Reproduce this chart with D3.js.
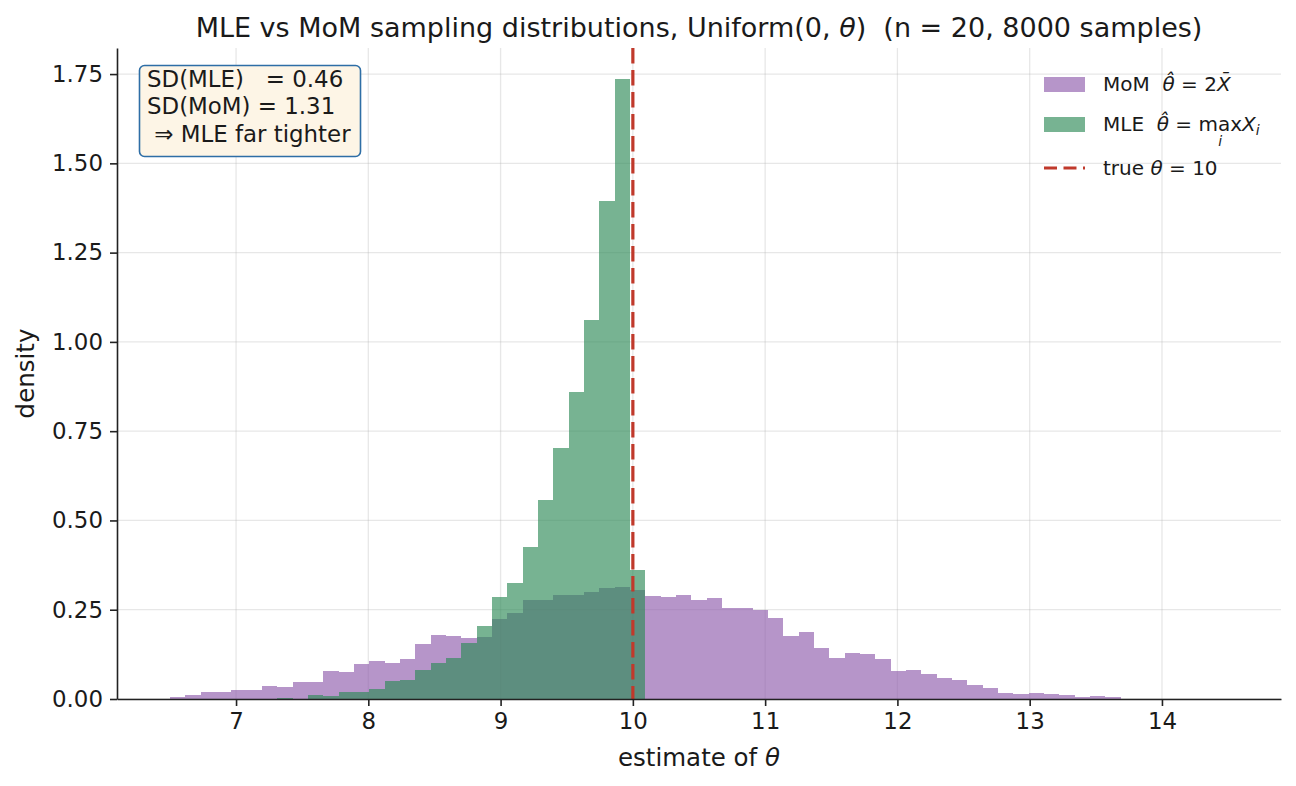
<!DOCTYPE html>
<html lang="en">
<head>
<meta charset="utf-8">
<title>MLE vs MoM</title>
<script src="https://cdn.jsdelivr.net/npm/d3@7"></script>
<style>
  body { margin: 0; background: #fff; }
  text { font-family: "DejaVu Sans", sans-serif; fill: #1a1a1a; white-space: pre; }
</style>
</head>
<body>
<script>
// shared histogram bins: 70 edges from 6.5 to 14.5
const binLo = 6.5, binHi = 14.5, binCount = 69;

// density per bin, MoM estimator 2*mean
const momDensity = [
  0.007, 0.012, 0.020, 0.020, 0.026, 0.026, 0.037, 0.034, 0.048, 0.048,
  0.079, 0.076, 0.099, 0.107, 0.102, 0.113, 0.155, 0.180, 0.177, 0.172,
  0.175, 0.225, 0.242, 0.276, 0.278, 0.292, 0.292, 0.301, 0.312, 0.315,
  0.306, 0.289, 0.287, 0.292, 0.278, 0.284, 0.256, 0.256, 0.250, 0.228,
  0.177, 0.189, 0.144, 0.116, 0.130, 0.127, 0.113, 0.079, 0.082, 0.071,
  0.060, 0.054, 0.040, 0.032, 0.018, 0.015, 0.018, 0.015, 0.012, 0.007,
  0.009, 0.007, 0, 0, 0, 0, 0, 0, 0
];

// density per bin, MLE estimator max X_i
const mleDensity = [
  0, 0, 0, 0, 0, 0, 0, 0.004, 0, 0.012,
  0.009, 0.020, 0.020, 0.029, 0.051, 0.054, 0.082, 0.101, 0.116, 0.158,
  0.205, 0.287, 0.326, 0.427, 0.556, 0.704, 0.859, 1.060, 1.394, 1.736,
  0.360, 0, 0, 0, 0, 0, 0, 0, 0, 0,
  0, 0, 0, 0, 0, 0, 0, 0, 0, 0,
  0, 0, 0, 0, 0, 0, 0, 0, 0, 0,
  0, 0, 0, 0, 0, 0, 0, 0, 0
];

const xTicks = [7, 8, 9, 10, 11, 12, 13, 14];
const yTicks = [0, 0.25, 0.5, 0.75, 1.0, 1.25, 1.5, 1.75];
const trueTheta = 10;
const boxLines = ["SD(MLE)   = 0.46", "SD(MoM) = 1.31", " \u21d2 MLE far tighter"];

const W = 1296, H = 786;
const m = { left: 117, right: 1281, top: 48, bottom: 699 };

const svg = d3.select("body").append("svg")
  .attr("width", W).attr("height", H);

const x = d3.scaleLinear().domain([6.1, 14.9]).range([m.left, m.right]);
const y = d3.scaleLinear().domain([0, 1.823]).range([m.bottom, m.top]);

const binW = (binHi - binLo) / binCount;
const bins = d3.range(binCount).map(i => ({
  x0: binLo + i * binW, x1: binLo + (i + 1) * binW,
  mom: momDensity[i], mle: mleDensity[i]
}));

// grid
const grid = svg.append("g").attr("stroke", "#b0b0b0").attr("stroke-opacity", 0.3).attr("stroke-width", 1.3);
grid.selectAll(".gx").data(xTicks).enter().append("line")
  .attr("x1", d => x(d)).attr("x2", d => x(d)).attr("y1", m.top).attr("y2", m.bottom);
grid.selectAll(".gy").data(yTicks).enter().append("line")
  .attr("x1", m.left).attr("x2", m.right).attr("y1", d => y(d)).attr("y2", d => y(d));

// histograms
function drawHist(key, fill, op) {
  svg.append("g").selectAll("rect")
    .data(bins.filter(b => b[key] > 0))
    .enter().append("rect")
    .attr("x", d => x(d.x0))
    .attr("width", d => x(d.x1) - x(d.x0))
    .attr("y", d => y(d[key]))
    .attr("height", d => y(0) - y(d[key]))
    .attr("fill", fill).attr("fill-opacity", op)
    .attr("shape-rendering", "crispEdges");
}
drawHist("mom", "#8f5cac", 0.65);
drawHist("mle", "#2e8b57", 0.65);

// true theta line
svg.append("line")
  .attr("x1", x(trueTheta)).attr("x2", x(trueTheta))
  .attr("y1", m.top).attr("y2", m.bottom)
  .attr("stroke", "#c0392b").attr("stroke-width", 3.2)
  .attr("stroke-dasharray", "15.5,6.5");

// axes
const xAxis = svg.append("g").attr("transform", `translate(0,${m.bottom})`)
  .call(d3.axisBottom(x).tickValues(xTicks).tickFormat(d3.format("d"))
    .tickSizeInner(7).tickSizeOuter(0).tickPadding(7));
const yAxis = svg.append("g").attr("transform", `translate(${m.left},0)`)
  .call(d3.axisLeft(y).tickValues(yTicks).tickFormat(d3.format(".2f"))
    .tickSizeInner(7).tickSizeOuter(0).tickPadding(7));
[xAxis, yAxis].forEach(a => {
  a.select(".domain").attr("stroke", "#222").attr("stroke-width", 1.6);
  a.selectAll(".tick line").attr("stroke", "#222").attr("stroke-width", 1.6);
  a.selectAll(".tick text").attr("font-family", "DejaVu Sans").attr("font-size", 22.9).attr("fill", "#1a1a1a");
});

// title
const title = svg.append("text").attr("x", (m.left + m.right) / 2).attr("y", 37)
  .attr("text-anchor", "middle").attr("font-size", 27);
title.append("tspan").text("MLE vs MoM sampling distributions, Uniform(0, ");
title.append("tspan").attr("font-style", "italic").text("\u03b8");
title.append("tspan").text(")  (n = 20, 8000 samples)");

// axis labels
const xl = svg.append("text").attr("x", (m.left + m.right) / 2).attr("y", 766)
  .attr("text-anchor", "middle").attr("font-size", 24.5);
xl.append("tspan").text("estimate of ");
xl.append("tspan").attr("font-style", "italic").text("\u03b8");
svg.append("text").attr("transform", `translate(34,${(m.top + m.bottom) / 2}) rotate(-90)`)
  .attr("text-anchor", "middle").attr("font-size", 24.5).text("density");

// annotation box
const box = svg.append("g");
box.append("rect").attr("x", 139.5).attr("y", 65.5).attr("width", 221).attr("height", 91)
  .attr("rx", 5).attr("fill", "#fdf5e6").attr("stroke", "#2e6ea6").attr("stroke-width", 1.6);
box.selectAll("text").data(boxLines).enter().append("text")
  .attr("x", 147).attr("y", (d, i) => 87 + i * 27.3)
  .attr("font-size", 22.9).text(d => d);

// legend
const lg = svg.append("g").attr("transform", "translate(1044,0)");
const lfs = 20;
lg.append("rect").attr("x", 0).attr("y", 77).attr("width", 41).attr("height", 15)
  .attr("fill", "#8f5cac").attr("fill-opacity", 0.65);
lg.append("rect").attr("x", 0).attr("y", 117).attr("width", 41).attr("height", 15)
  .attr("fill", "#2e8b57").attr("fill-opacity", 0.65);
lg.append("line").attr("x1", 0).attr("x2", 41).attr("y1", 168).attr("y2", 168)
  .attr("stroke", "#c0392b").attr("stroke-width", 3.2).attr("stroke-dasharray", "13,6.5");

const t1 = lg.append("text").attr("x", 59).attr("y", 91).attr("font-size", lfs);
t1.append("tspan").text("MoM  ");
t1.append("tspan").attr("font-style", "italic").text("\u03b8\u0302");
t1.append("tspan").text(" = 2");
t1.append("tspan").attr("font-style", "italic").text("X\u0304");

const t2 = lg.append("text").attr("x", 59).attr("y", 131).attr("font-size", lfs);
t2.append("tspan").text("MLE  ");
t2.append("tspan").attr("font-style", "italic").text("\u03b8\u0302");
t2.append("tspan").text(" = max");
t2.append("tspan").attr("font-style", "italic").text("X");
t2.append("tspan").attr("font-style", "italic").attr("font-size", 14).attr("dy", 4).text("i");
// subscript i under "max"
const pre = "MLE  \u03b8\u0302 = ".length;
const maxMid = t2.node().getSubStringLength(0, pre) + t2.node().getSubStringLength(pre, 3) / 2;
lg.append("text").attr("x", 59 + maxMid).attr("y", 146).attr("font-size", 14)
  .attr("text-anchor", "middle").attr("font-style", "italic").text("i");

const t3 = lg.append("text").attr("x", 59).attr("y", 175).attr("font-size", lfs);
t3.append("tspan").text("true ");
t3.append("tspan").attr("font-style", "italic").text("\u03b8");
t3.append("tspan").text(" = 10");
</script>
</body>
</html>
